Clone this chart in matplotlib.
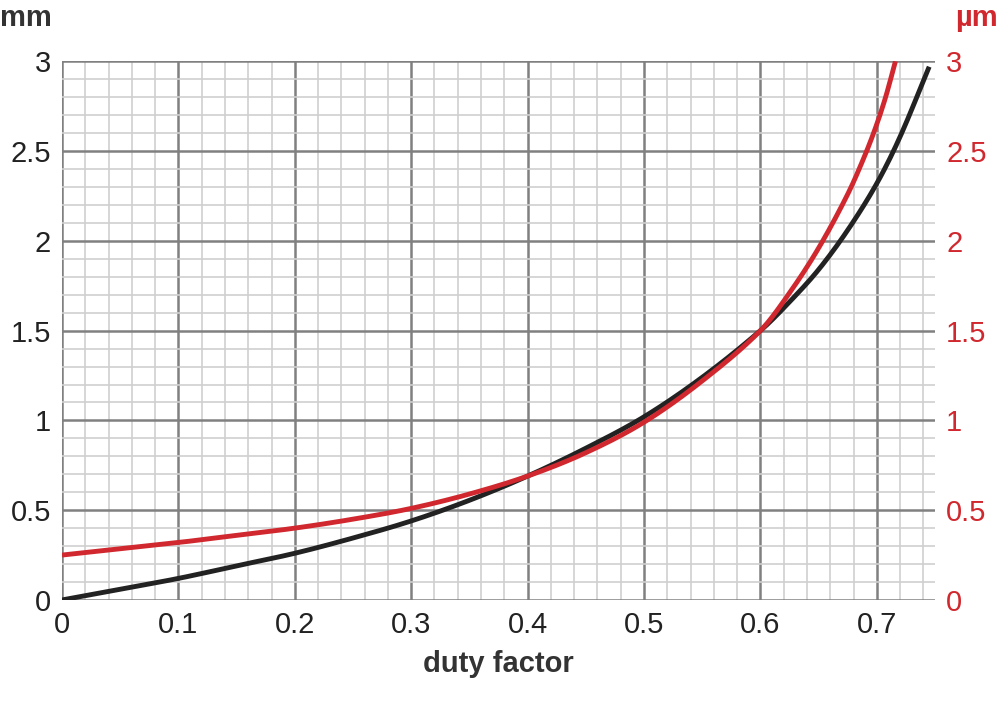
import matplotlib
matplotlib.use("Agg")
import matplotlib.pyplot as plt
import numpy as np
from matplotlib.ticker import MultipleLocator

plt.rcParams['font.family'] = ['Liberation Sans', 'DejaVu Sans']

x_black = [0, .05, .1, .15, .2, .25, .3, .35, .4, .45, .5, .55, .6, .625, .65, .675, .7, .72, .745]
y_black = [0, 0.06, 0.12, 0.19, 0.26, 0.345, 0.44, 0.555, 0.69, 0.845, 1.02, 1.24, 1.5, 1.66, 1.84, 2.06, 2.32, 2.58, 2.97]
x_red = [0, .05, .1, .15, .2, .25, .3, .35, .4, .45, .5, .55, .6, .625, .65, .675, .69, .7, .708, .716]
y_red = [0.25, 0.285, 0.32, 0.36, 0.40, 0.45, 0.51, 0.59, 0.69, 0.82, 0.99, 1.22, 1.5, 1.71, 1.96, 2.26, 2.48, 2.65, 2.81, 3.0]
xticks = [0, 0.1, 0.2, 0.3, 0.4, 0.5, 0.6, 0.7]
yticks = [0, 0.5, 1, 1.5, 2, 2.5, 3]

def smooth(x, y):
    x = np.asarray(x); y = np.asarray(y)
    xs = np.linspace(x[0], x[-1], 600)
    out = []
    for xi in xs:
        i = min(np.searchsorted(x, xi, side='right') - 1, len(x) - 2)
        i0, i1, i2, i3 = max(i-1, 0), i, i+1, min(i+2, len(x)-1)
        h = x[i2] - x[i1]
        t = (xi - x[i1]) / h
        m1 = (y[i2] - y[i0]) / (x[i2] - x[i0]) * h
        m2 = (y[i3] - y[i1]) / (x[i3] - x[i1]) * h
        t2, t3 = t*t, t*t*t
        out.append((2*t3-3*t2+1)*y[i1] + (t3-2*t2+t)*m1 + (-2*t3+3*t2)*y[i2] + (t3-t2)*m2)
    return xs, np.array(out)

fig = plt.figure(figsize=(10, 7.05), dpi=100)
ax = fig.add_axes([0.062, 0.149, 0.873, 0.764])
ax.set_xlim(0, 0.75)
ax.set_ylim(0, 3)
ax.xaxis.set_minor_locator(MultipleLocator(0.02))
ax.yaxis.set_minor_locator(MultipleLocator(0.1))
ax.grid(which='minor', color='#cfcfcf', lw=1.2)
ax.grid(which='major', color='#808080', lw=1.8)
ax.set_axisbelow(True)
for s in ax.spines.values():
    s.set_visible(False)
ax.set_xticks(xticks)
ax.set_xticklabels([f"{t:g}" for t in xticks])
ax.set_yticks(yticks)
ax.set_yticklabels([f"{t:g}" for t in yticks])
ax.tick_params(which='both', length=0, labelsize=21, colors='#222222', pad=8)

xb, yb = smooth(x_black, y_black)
xr, yr = smooth(x_red, y_red)
ax.plot(xb, yb, color='#222222', lw=3.5, solid_capstyle='butt')
ax.plot(xr, yr, color='#d0282e', lw=3.5, solid_capstyle='butt')

ax2 = ax.twinx()
ax2.set_ylim(0, 3)
ax2.set_yticks(yticks)
ax2.set_yticklabels([f"{t:g}" for t in yticks])
ax2.tick_params(length=0, labelsize=21, colors='#d0282e', pad=8)
for s in ax2.spines.values():
    s.set_visible(False)

ax.set_xlabel("duty factor", fontsize=21, fontweight='bold', color='#333333', labelpad=8)
fig.text(0.0, 0.995, "mm", fontsize=21, fontweight='bold', color='#333333', va='top', ha='left')
fig.text(0.998, 0.995, "µm", fontsize=21, fontweight='bold', color='#d0282e', va='top', ha='right')
fig.savefig("out.png", dpi=100)
